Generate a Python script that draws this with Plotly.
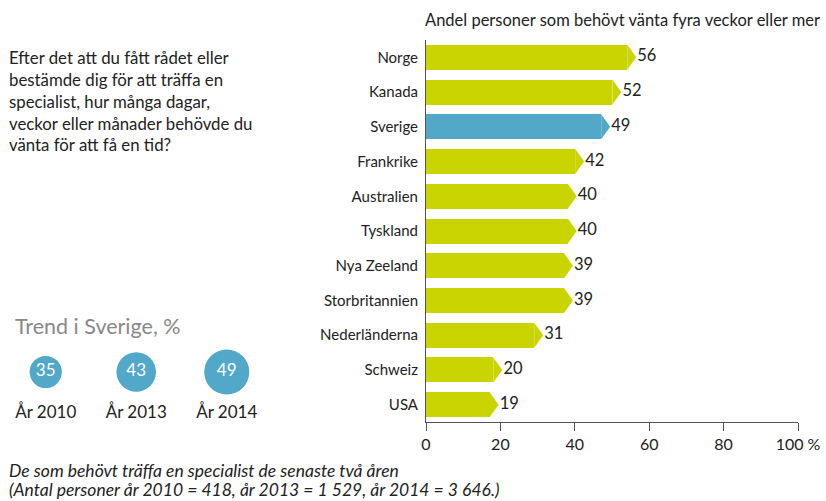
import plotly.graph_objects as go

countries = ["Norge", "Kanada", "Sverige", "Frankrike", "Australien", "Tyskland",
             "Nya Zeeland", "Storbritannien", "Nederländerna", "Schweiz", "USA"]
values = [56, 52, 49, 42, 40, 40, 39, 39, 31, 20, 19]
highlight = "Sverige"

trend_years = ["År 2010", "År 2013", "År 2014"]
trend_values = [35, 43, 49]

x_ticks = [0, 20, 40, 60, 80, 100]
x_ticktext = ["0", "20", "40", "60", "80", "100 %"]

title_text = "Andel personer som behövt vänta fyra veckor eller mer"
question_text = ("Efter det att du fått rådet eller<br>bestämde dig för att träffa en<br>"
                 "specialist, hur många dagar,<br>veckor eller månader behövde du<br>"
                 "vänta för att få en tid?")
trend_title = "Trend i Sverige, %"
footer_lines = ["De som behövt träffa en specialist de senaste två åren",
                "(Antal personer år 2010 = 418, år 2013 = 1 529, år 2014 = 3 646.)"]

GREEN = "#c9d400"
BLUE = "#52a8c9"
FONT = "Lato"
W, H = 826, 501

n = len(countries)
ypos = [n - 1 - i for i in range(n)]
colors = [BLUE if c == highlight else GREEN for c in countries]
tip = 2.4
half = 0.36

fig = go.Figure()
fig.add_trace(go.Bar(
    x=[v - tip + 0.5 for v in values], y=ypos, orientation="h", width=2 * half,
    marker=dict(color=colors, line=dict(width=0)), showlegend=False, hoverinfo="skip"))

for v, yp, col in zip(values, ypos, colors):
    fig.add_trace(go.Scatter(
        x=[v - tip + 0.5, v + 0.5, v - tip + 0.5, v - tip + 0.5],
        y=[yp - half, yp, yp + half, yp - half],
        mode="lines", fill="toself", fillcolor=col, line=dict(width=0, color=col),
        showlegend=False, hoverinfo="skip"))

fig.add_trace(go.Scatter(
    x=[v + 0.8 for v in values], y=ypos, mode="text", text=[str(v) for v in values],
    textposition="middle right", textfont=dict(size=16.5, color="#222", family=FONT),
    showlegend=False, hoverinfo="skip"))

# Trend circles
fig.add_trace(go.Scatter(
    x=[0, 1, 2], y=[0, 0, 0], xaxis="x2", yaxis="y2", mode="markers+text",
    marker=dict(size=[v * 0.92 for v in trend_values], color=BLUE, opacity=1,
                line=dict(width=0)),
    text=[str(v) for v in trend_values], textposition="middle center",
    textfont=dict(size=17, color="white", family=FONT),
    showlegend=False, hoverinfo="skip"))

x0, x1 = 426, 798
ytop, ybot = 40, 422
annotations = [
    dict(text=title_text, xref="paper", yref="paper", x=423 / W, y=(H - 20) / H,
         xanchor="left", yanchor="middle", showarrow=False,
         font=dict(size=16.5, color="#222")),
    dict(text=question_text, xref="paper", yref="paper", x=7 / W, y=(H - 45) / H,
         xanchor="left", yanchor="top", align="left", showarrow=False,
         font=dict(size=16.8, color="#222")),
    dict(text=trend_title, xref="paper", yref="paper", x=13 / W, y=(H - 326) / H,
         xanchor="left", yanchor="middle", showarrow=False,
         font=dict(size=21.5, color="#888888")),
]
for i, line in enumerate(footer_lines):
    annotations.append(dict(text="<i>" + line + "</i>", xref="paper", yref="paper",
                            x=7 / W, y=(H - 470 - 19 * i) / H, xanchor="left",
                            yanchor="middle", showarrow=False,
                            font=dict(size=17.5, color="#222")))

fig.update_layout(
    width=W, height=H, margin=dict(l=0, r=0, t=0, b=0, autoexpand=False),
    paper_bgcolor="white", plot_bgcolor="white",
    font=dict(family=FONT, color="#222"),
    bargap=0,
    xaxis=dict(domain=[x0 / W, x1 / W], range=[0, 100], tickvals=x_ticks, ticktext=x_ticktext,
               showgrid=False, zeroline=False, showline=True, linecolor="#555", linewidth=1,
               ticks="outside", ticklen=8, tickcolor="#555", tickfont=dict(size=16, color="#222"),
               anchor="y", automargin=False),
    yaxis=dict(domain=[(H - ybot) / H, (H - ytop) / H], range=[-0.5, n - 0.5],
               tickvals=ypos, ticktext=countries, showgrid=False, zeroline=False,
               showline=True, linecolor="#555", linewidth=1, ticks="",
               ticklabelstandoff=4, tickfont=dict(size=15, color="#222"), anchor="x",
               automargin=False),
    xaxis2=dict(domain=[0, 289 / W], range=[-0.505, 2.688], tickvals=[0, 1, 2],
                ticktext=trend_years, showgrid=False, zeroline=False, showline=False,
                ticks="", tickfont=dict(size=17, color="#222"), anchor="y2",
                automargin=False, ticklabelstandoff=2),
    yaxis2=dict(domain=[(H - 398) / H, (H - 346) / H], range=[-1, 1], visible=False,
                anchor="x2"),
    annotations=annotations,
)

fig.write_html("out.html", config={"displayModeBar": False},
               post_script="document.body.style.margin='0';"
                           "document.body.style.overflow='hidden';")
